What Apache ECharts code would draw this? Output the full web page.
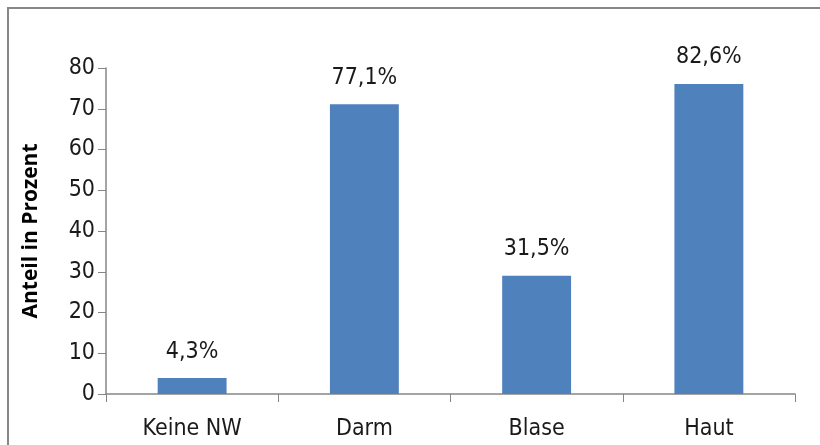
<!DOCTYPE html>
<html>
<head>
<meta charset="utf-8">
<script src="https://cdn.jsdelivr.net/npm/echarts@6/dist/echarts.min.js"></script>
<style>
  html, body { margin: 0; padding: 0; background: #fff; }
  #chart { width: 820px; height: 445px; }
</style>
</head>
<body>
<div id="chart"></div>
<script>
var categories = ['Keine NW', 'Darm', 'Blase', 'Haut'];
var barValues = [3.9, 71.1, 29, 76.1];
var barLabels = ['4,3%', '77,1%', '31,5%', '82,6%'];
var yTicks = [0, 10, 20, 30, 40, 50, 60, 70, 80];

var font = '"DejaVu Sans Condensed", "Open Sans", sans-serif';
var axisGray = '#868686';

var myChart = echarts.init(document.getElementById('chart'));
var option = {
  animation: false,
  backgroundColor: '#fff',
  graphic: [{
    type: 'rect',
    shape: { x: 8, y: 8, width: 830, height: 480 },
    style: { fill: 'none', stroke: '#878787', lineWidth: 2 },
    silent: true
  }],
  grid: { left: 106, top: 68, right: 25, bottom: 51 },
  xAxis: {
    type: 'category',
    data: categories,
    axisLine: { lineStyle: { color: axisGray, width: 1.5 } },
    axisTick: { show: true, length: 8, alignWithLabel: false, lineStyle: { color: axisGray } },
    axisLabel: { color: '#1a1a1a', fontFamily: font, fontSize: 23, margin: 24 }
  },
  yAxis: {
    type: 'value',
    min: yTicks[0],
    max: yTicks[yTicks.length - 1],
    interval: 10,
    name: 'Anteil in Prozent',
    nameLocation: 'middle',
    nameGap: 64,
    nameTextStyle: { color: '#000', fontFamily: '"Open Sans", sans-serif', fontSize: 21, fontWeight: 'bold' },
    axisLine: { show: true, lineStyle: { color: axisGray, width: 1.5 } },
    axisTick: { show: true, length: 8, lineStyle: { color: axisGray } },
    splitLine: { show: false },
    axisLabel: { color: '#1a1a1a', fontFamily: font, fontSize: 23, margin: 11 }
  },
  series: [{
    type: 'bar',
    data: barValues,
    barWidth: '40%',
    itemStyle: { color: '#4F81BD' },
    label: {
      show: true,
      position: 'top',
      distance: 15,
      color: '#1a1a1a',
      fontFamily: font,
      fontSize: 23,
      formatter: function (p) { return barLabels[p.dataIndex]; }
    }
  }]
};
myChart.setOption(option);
</script>
</body>
</html>
